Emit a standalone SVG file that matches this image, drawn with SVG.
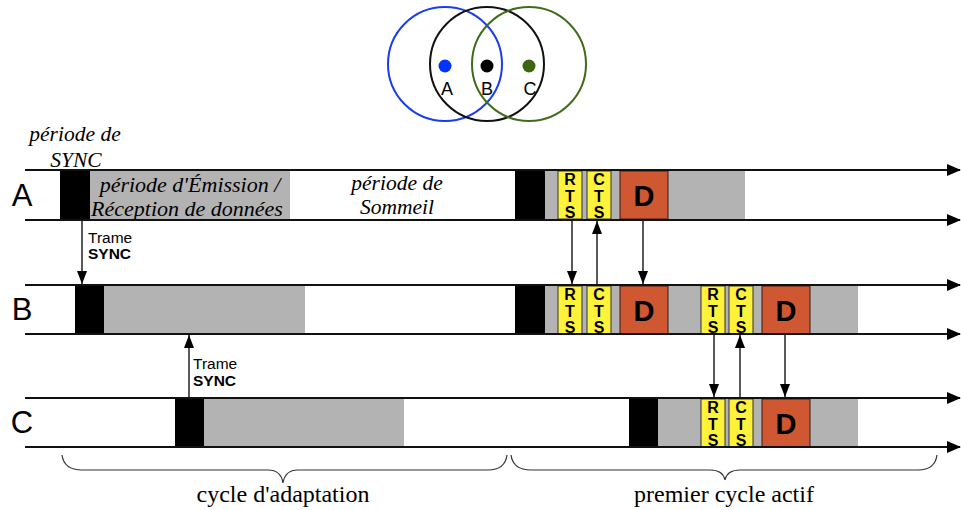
<svg xmlns="http://www.w3.org/2000/svg" width="961" height="510" viewBox="0 0 961 510">
<style>
.axis{stroke:#111;stroke-width:2;fill:none}
.sig{stroke:#222;stroke-width:1.5;fill:none}
.blk{fill:#000}
.gry{fill:#b3b3b3}
.ylw{fill:#fff23a;stroke:#333;stroke-width:1}
.dat{fill:#cf5731;stroke:#3a1a10;stroke-width:1}
.lbl{font-family:"Liberation Sans",Arial,sans-serif;font-size:31px;fill:#000;text-anchor:middle}
.rts{font-family:"Liberation Sans",Arial,sans-serif;font-size:16px;font-weight:bold;fill:#000;text-anchor:middle}
.dd{font-family:"Liberation Sans",Arial,sans-serif;font-size:29px;font-weight:bold;fill:#000;text-anchor:middle}
.it{font-family:"Liberation Serif","Times New Roman",serif;font-style:italic;font-size:21.5px;fill:#000;text-anchor:middle}
.it2{font-family:"Liberation Serif","Times New Roman",serif;font-style:italic;font-size:22px;fill:#000;text-anchor:middle}
.sm{font-family:"Liberation Sans",Arial,sans-serif;font-size:15.5px;fill:#000}
.cap{font-family:"Liberation Serif","Times New Roman",serif;font-size:24px;fill:#000;text-anchor:middle}
.brace{stroke:#333;stroke-width:1.2;fill:none}
.circ{fill:none;stroke-width:2}
.nl{font-family:"Liberation Sans",Arial,sans-serif;font-size:18px;fill:#000;text-anchor:middle}
</style>
<defs>
<marker id="ah" markerUnits="userSpaceOnUse" markerWidth="14" markerHeight="12" refX="13" refY="6" orient="auto">
<path d="M0,0 L14,6 L0,12 Z" fill="#000"/>
</marker>
<marker id="sh" markerUnits="userSpaceOnUse" markerWidth="13" markerHeight="10" refX="13" refY="5" orient="auto">
<path d="M0,0 L13,5 L0,10 Z" fill="#000"/>
</marker>
<g id="rtsA"><rect class="ylw" x="0" y="0" width="24" height="48"/><text class="rts" x="12" y="14">R</text><text class="rts" x="12" y="31">T</text><text class="rts" x="12" y="47">S</text></g>
<g id="ctsA"><rect class="ylw" x="0" y="0" width="24" height="48"/><text class="rts" x="12" y="14">C</text><text class="rts" x="12" y="31">T</text><text class="rts" x="12" y="47">S</text></g>
<g id="dA"><rect class="dat" x="0" y="0" width="48" height="48"/><text class="dd" x="24" y="35">D</text></g>
</defs>
<rect width="961" height="510" fill="#fff"/>

<g id="topology">
<circle class="circ" cx="445" cy="64" r="57" stroke="#1a3cf0"/>
<circle class="circ" cx="487" cy="64" r="57" stroke="#111"/>
<circle class="circ" cx="529" cy="64" r="57" stroke="#3f6b1a"/>
<circle cx="445" cy="66" r="6.5" fill="#0033ff"/>
<circle cx="487" cy="66" r="6.5" fill="#000"/>
<circle cx="529" cy="66" r="6.5" fill="#3d6610"/>
<text class="nl" x="447" y="95">A</text>
<text class="nl" x="487" y="95">B</text>
<text class="nl" x="530" y="95">C</text>
</g>

<g id="rowA">
<rect class="gry" x="90" y="171" width="200" height="48"/>
<rect class="blk" x="60" y="171" width="30" height="48"/>
<rect class="gry" x="545" y="171" width="200" height="48"/>
<rect class="blk" x="515" y="171" width="30" height="48"/>
<use href="#rtsA" x="558" y="171"/>
<use href="#ctsA" x="587" y="171"/>
<use href="#dA" x="620" y="171"/>
<text class="lbl" x="22" y="206">A</text>
</g>

<g id="rowB">
<rect class="gry" x="104" y="286" width="201" height="48"/>
<rect class="blk" x="75" y="286" width="29" height="48"/>
<rect class="gry" x="545" y="286" width="313" height="48"/>
<rect class="blk" x="515" y="286" width="30" height="48"/>
<use href="#rtsA" x="558" y="286"/>
<use href="#ctsA" x="587" y="286"/>
<use href="#dA" x="620" y="286"/>
<use href="#rtsA" x="701" y="286"/>
<use href="#ctsA" x="729" y="286"/>
<use href="#dA" x="762" y="286"/>
<text class="lbl" x="22" y="320">B</text>
</g>

<g id="rowC">
<rect class="gry" x="204" y="399" width="200" height="48"/>
<rect class="blk" x="175" y="399" width="29" height="48"/>
<rect class="gry" x="658" y="399" width="200" height="48"/>
<rect class="blk" x="629" y="399" width="29" height="48"/>
<use href="#rtsA" x="701" y="399"/>
<use href="#ctsA" x="729" y="399"/>
<use href="#dA" x="762" y="399"/>
<text class="lbl" x="22" y="433">C</text>
</g>

<g id="labels">
<text class="it" x="75" y="141">période de</text>
<text class="it" x="76" y="167">SYNC</text>
<text class="it2" x="190" y="192">période d'Émission /</text>
<text class="it2" x="187" y="216">Réception de données</text>
<text class="it" x="397" y="190">période de</text>
<text class="it" x="397" y="214">Sommeil</text>
<text class="sm" x="88" y="243">Trame</text>
<text class="sm" x="88" y="259" font-weight="bold">SYNC</text>
<text class="sm" x="193" y="369">Trame</text>
<text class="sm" x="193" y="386" font-weight="bold">SYNC</text>
<text class="cap" x="283" y="502">cycle d'adaptation</text>
<text class="cap" x="724" y="502">premier cycle actif</text>
</g>

<g id="connectors">
<line class="axis" x1="25" y1="170" x2="960" y2="170" marker-end="url(#ah)"/>
<line class="axis" x1="25" y1="220" x2="960" y2="220" marker-end="url(#ah)"/>
<line class="axis" x1="25" y1="285" x2="960" y2="285" marker-end="url(#ah)"/>
<line class="axis" x1="25" y1="334" x2="960" y2="334" marker-end="url(#ah)"/>
<line class="axis" x1="25" y1="398" x2="960" y2="398" marker-end="url(#ah)"/>
<line class="axis" x1="25" y1="447" x2="960" y2="447" marker-end="url(#ah)"/>
<line class="sig" x1="82" y1="221" x2="82" y2="284" marker-end="url(#sh)"/>
<line class="sig" x1="189" y1="397" x2="189" y2="335" marker-end="url(#sh)"/>
<line class="sig" x1="572" y1="221" x2="572" y2="284" marker-end="url(#sh)"/>
<line class="sig" x1="597" y1="284" x2="597" y2="221" marker-end="url(#sh)"/>
<line class="sig" x1="643" y1="221" x2="643" y2="284" marker-end="url(#sh)"/>
<line class="sig" x1="714" y1="335" x2="714" y2="397" marker-end="url(#sh)"/>
<line class="sig" x1="740" y1="397" x2="740" y2="335" marker-end="url(#sh)"/>
<line class="sig" x1="785" y1="335" x2="785" y2="397" marker-end="url(#sh)"/>
</g>

<g id="braces">
<path class="brace" d="M62,455 Q64,470 82,470 L268,470 Q281,470 283,483 Q285,470 298,470 L488,470 Q505,470 507,455"/>
<path class="brace" d="M511,455 Q513,470 531,470 L710,470 Q723,470 725,480 Q727,470 740,470 L918,470 Q935,470 937,455"/>
</g>
</svg>
